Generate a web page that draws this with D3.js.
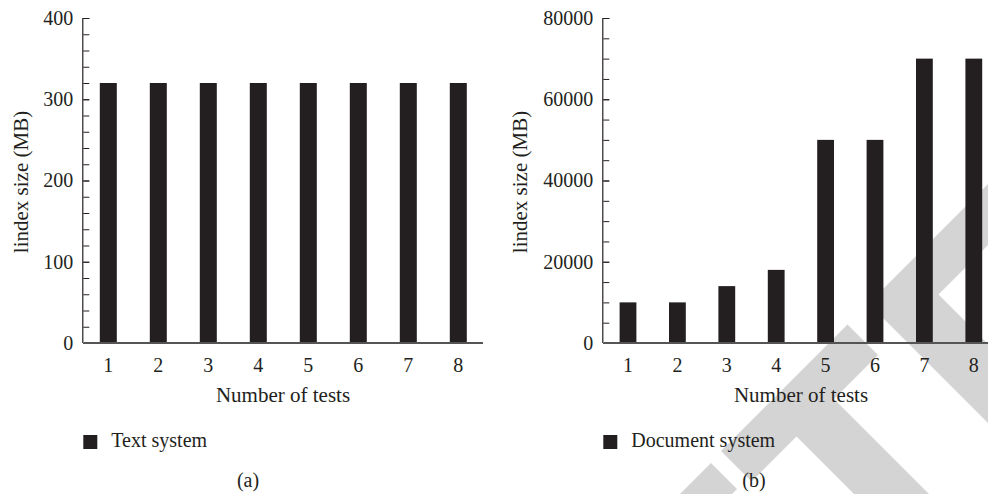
<!DOCTYPE html>
<html>
<head>
<meta charset="utf-8">
<script src="https://cdn.jsdelivr.net/npm/d3@7"></script>
<style>
  html, body { margin: 0; padding: 0; background: #fff; }
  svg { display: block; }
  text { font-family: "Liberation Serif", "Times New Roman", serif; fill: #231f20; }
</style>
</head>
<body>
<svg id="chart" width="988" height="494"></svg>
<script>
// ---- data ----
const categories = ["1", "2", "3", "4", "5", "6", "7", "8"];
const textSystem = [320, 320, 320, 320, 320, 320, 320, 320];
const documentSystem = [10000, 10000, 14000, 18000, 50000, 50000, 70000, 70000];
const ticksA = [0, 100, 200, 300, 400];
const ticksB = [0, 20000, 40000, 60000, 80000];
const xTitle = "Number of tests";
const yTitle = "lindex size (MB)";

const svg = d3.select("#chart");
const ink = "#231f20";
const fontSize = 20;
const titleSize = 21;

// ---- light grey watermark behind the right panel (diagonal bands, x+y / x-y frame) ----
const wm = svg.append("g").attr("fill", "#d4d4d4");
const toXY = ([s, d]) => [(s + d) / 2, (s - d) / 2];
const wmShapes = [
  [[1172, 1100], [1172, 565], [1700, 565], [1700, 644], [1233, 644], [1233, 1100]],
  [[1172, 523], [1172, 270], [1233, 270], [1233, 360], [1700, 360], [1700, 435], [1233, 435], [1233, 523]],
  [[1174, 248], [1174, 100], [1226, 100], [1226, 248]]
];
wmShapes.forEach(shape => {
  wm.append("path").attr("d", d3.line()(shape.map(toXY)) + "Z");
});

function panel(opts) {
  const g = svg.append("g");
  const y = d3.scaleLinear().domain(opts.domain).range([343, 18]);
  const x = d3.scaleBand().domain(categories)
    .range([opts.x0, opts.x0 + opts.step * categories.length])
    .paddingInner(0.66).paddingOuter(0.33);

  // bars
  g.selectAll("rect.bar").data(opts.values).enter().append("rect")
    .attr("class", "bar")
    .attr("x", (d, i) => x(categories[i]))
    .attr("width", x.bandwidth())
    .attr("y", d => y(d))
    .attr("height", d => y(0) - y(d))
    .attr("fill", ink);

  // minor ticks (inward)
  const yMinor = d3.axisLeft(y).ticks(20).tickSize(-6).tickFormat("");
  const gm = g.append("g").attr("transform", `translate(${opts.x0},0)`).call(yMinor);
  gm.select(".domain").remove();
  gm.selectAll("line").attr("stroke", ink).attr("stroke-width", 1);

  // major y axis
  const yAxis = d3.axisLeft(y).tickValues(opts.ticks).tickSize(-6).tickPadding(10)
    .tickFormat(d3.format("d"));
  const ga = g.append("g").attr("transform", `translate(${opts.x0},0)`).call(yAxis);
  ga.select(".domain").attr("stroke", ink).attr("stroke-width", 1.2)
    .attr("d", `M-0.5,${y(0)}V${y(opts.domain[1])}`);
  ga.selectAll("line").attr("stroke", ink);
  ga.selectAll("text").style("font-size", fontSize + "px")
    .style("font-family", '"Liberation Serif", serif').attr("fill", ink);

  // x axis
  const xAxis = d3.axisBottom(x).tickSize(0).tickPadding(15);
  const gx = g.append("g").attr("transform", `translate(0,${y(0)})`).call(xAxis);
  gx.select(".domain").attr("stroke", "#555557").attr("stroke-width", 1.8)
    .attr("d", `M${opts.x0},0H${opts.xEnd}`);
  gx.selectAll("text").style("font-size", fontSize + "px")
    .style("font-family", '"Liberation Serif", serif').attr("fill", ink);

  // titles
  g.append("text").attr("x", opts.xTitleX).attr("y", 402)
    .attr("text-anchor", "middle").style("font-size", titleSize + "px").text(xTitle);
  g.append("text")
    .attr("transform", `translate(${opts.yTitleX},182) rotate(-90)`)
    .attr("text-anchor", "middle").style("font-size", titleSize + "px").text(yTitle);

  // legend
  g.append("rect").attr("x", opts.x0).attr("y", 435).attr("width", 14).attr("height", 14)
    .attr("fill", ink);
  g.append("text").attr("x", opts.x0 + 28).attr("y", 447)
    .style("font-size", fontSize + "px").text(opts.legend);

  // sub caption
  g.append("text").attr("x", opts.capX).attr("y", 487)
    .attr("text-anchor", "middle").style("font-size", fontSize + "px").text(opts.caption);
}

panel({
  values: textSystem, domain: [0, 400], ticks: ticksA,
  x0: 83.3, step: 50, xEnd: 483, xTitleX: 283, yTitleX: 27.5,
  legend: "Text system", caption: "(a)", capX: 248
});
panel({
  values: documentSystem, domain: [0, 80000], ticks: ticksB,
  x0: 603.3, step: 49.4, xEnd: 988, xTitleX: 801, yTitleX: 526.5,
  legend: "Document system", caption: "(b)", capX: 754
});
</script>
</body>
</html>
